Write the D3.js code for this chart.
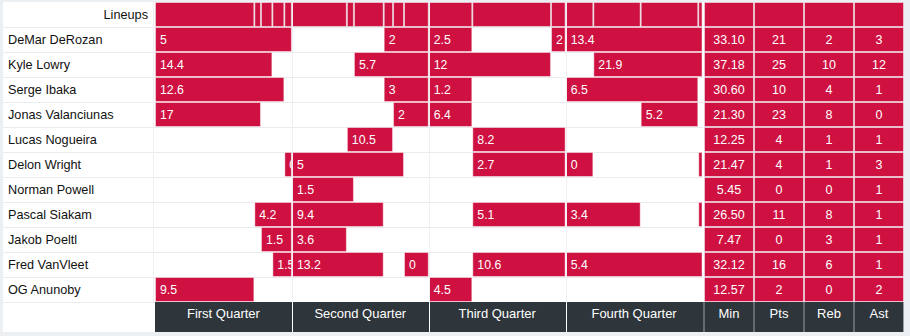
<!DOCTYPE html>
<html><head><meta charset="utf-8">
<script src="https://cdn.jsdelivr.net/npm/d3@7"></script>
<style>
body{margin:0;background:#edf0f3;}
svg{display:block;}
text{font-family:"Liberation Sans",Arial,Helvetica,sans-serif;}
</style>
</head><body>
<svg id="chart" width="910" height="336"></svg>
<script>
// ---------------- data ----------------
const players = ["DeMar DeRozan","Kyle Lowry","Serge Ibaka","Jonas Valanciunas","Lucas Nogueira",
  "Delon Wright","Norman Powell","Pascal Siakam","Jakob Poeltl","Fred VanVleet","OG Anunoby"];
const minutesPlayed = ["33.10","37.18","30.60","21.30","12.25","21.47","5.45","26.50","7.47","32.12","12.57"];
const points   = [21,25,10,23,4,4,0,11,0,16,2];
const rebounds = [2,10,4,8,1,1,0,8,3,6,0];
const assists  = [3,12,1,0,1,3,1,1,1,1,2];
const statLabels = ["Min","Pts","Reb","Ast"];
const quarterLabels = ["First Quarter","Second Quarter","Third Quarter","Fourth Quarter"];
// substitution times (game minutes) that split the lineups row
const lineupBreaks = [0,8.71,9.29,10.29,11.34,12,16.82,17.44,20.05,20.87,21.83,24,27.82,34.72,36,38.43,42.58,47.63,48];
// stints per player: [start minute, end minute, label]
const stints = [
  [[0,12,"5"],[20.05,24,"2"],[24,27.82,"2.5"],[34.72,36,"2"],[36,48,"13.4"]],
  [[0,10.29,"14.4"],[17.44,24,"5.7"],[24,34.72,"12"],[38.43,48,"21.9"]],
  [[0,11.34,"12.6"],[20.05,24,"3"],[24,27.82,"1.2"],[36,47.63,"6.5"]],
  [[0,9.29,"17"],[20.87,24,"2"],[24,27.82,"6.4"],[42.58,47.63,"5.2"]],
  [[16.82,20.87,"10.5"],[27.82,36,"8.2"]],
  [[11.34,12,"0"],[12,21.83,"5"],[27.82,36,"2.7"],[36,38.43,"0"],[47.63,48,""]],
  [[12,17.44,"1.5"]],
  [[8.71,12,"4.2"],[12,20.05,"9.4"],[27.82,36,"5.1"],[36,42.58,"3.4"],[47.63,48,""]],
  [[9.29,12,"1.5"],[12,16.82,"3.6"]],
  [[10.29,12,"1.5"],[12,20.05,"13.2"],[21.83,24,"0"],[27.82,36,"10.6"],[36,48,"5.4"]],
  [[0,8.71,"9.5"],[24,27.82,"4.5"]]
];

// ---------------- drawing ----------------
const RED = "#ce1141", DARK = "#2e353b";
const svg = d3.select("#chart");
const rows = ["Lineups", ...players];
const x = d3.scaleLinear().domain([0,48]).range([155,702.5]);
const y = d3.scaleBand().domain(rows).range([2,302]);
const sx = d3.scaleBand().domain(statLabels).range([704,904]);
const qx = d3.scaleBand().domain(quarterLabels).range([x(0),x(48)]);
const bh = y.bandwidth();

svg.append("rect").attr("x",3).attr("y",2).attr("width",901).attr("height",330).attr("fill","#fff");

// clip paths per quarter
const defs = svg.append("defs");
quarterLabels.forEach((q,i)=>{
  defs.append("clipPath").attr("id","q"+i).append("rect")
    .attr("x",x(i*12)).attr("y",0).attr("width",x((i+1)*12)-x(i*12)).attr("height",336);
});

// horizontal grid
svg.append("g").selectAll("line").data(rows.slice(1).concat(["_end"])).join("line")
  .attr("x1",3).attr("x2",703)
  .attr("y1",d=>d==="_end"?302.5:Math.round(y(d))+0.5)
  .attr("y2",d=>d==="_end"?302.5:Math.round(y(d))+0.5)
  .attr("stroke","#e9ecef");
svg.append("line").attr("x1",153.5).attr("x2",153.5).attr("y1",2).attr("y2",302).attr("stroke","#eef0f3");

// name labels
svg.append("g").selectAll("text").data(players).join("text")
  .attr("x",8).attr("y",d=>y(d)+bh/2).attr("dy","0.35em")
  .attr("font-size","12.7px").attr("fill","#111").text(d=>d);
svg.append("text").attr("x",148).attr("y",y("Lineups")+bh/2).attr("dy","0.35em")
  .attr("text-anchor","end").attr("font-size","12.7px").attr("fill","#111").text("Lineups");

// lineups row
const lineupSegs = d3.pairs(lineupBreaks);
svg.append("g").selectAll("rect").data(lineupSegs).join("rect")
  .attr("x",d=>x(d[0])+0.5).attr("y",y("Lineups")+0.5)
  .attr("width",d=>x(d[1])-x(d[0])-1).attr("height",bh-1)
  .attr("fill",RED).attr("stroke","rgba(235,225,230,0.6)");

// player stints
players.forEach((p,i)=>{
  const g = svg.append("g");
  g.selectAll("rect").data(stints[i]).join("rect")
    .attr("x",d=>x(d[0])+0.5).attr("y",y(p)+0.5)
    .attr("width",d=>Math.max(0,x(d[1])-x(d[0])-1)).attr("height",bh-1)
    .attr("fill",RED).attr("stroke","rgba(255,255,255,0.45)");
  g.selectAll("text").data(stints[i].filter(d=>d[2]!=="")).join("text")
    .attr("clip-path",d=>`url(#q${Math.min(3,Math.floor(d[0]/12+1e-6))})`)
    .attr("x",d=>x(d[0])+5).attr("y",y(p)+bh/2).attr("dy","0.35em")
    .attr("font-size","12.3px").attr("fill","#fff").text(d=>d[2]);
});

// quarter separators
svg.append("g").selectAll("line").data([12,24,36]).join("line")
  .attr("x1",d=>Math.round(x(d))+0.5).attr("x2",d=>Math.round(x(d))+0.5)
  .attr("y1",2).attr("y2",332).attr("stroke","#eef0f3");

// stats cells
const statCols = [minutesPlayed, points, rebounds, assists];
statLabels.forEach((s,j)=>{
  const g = svg.append("g");
  g.selectAll("rect").data(rows).join("rect")
    .attr("x",sx(s)+0.5).attr("y",d=>y(d)+0.5)
    .attr("width",sx.bandwidth()-1).attr("height",bh-1)
    .attr("fill",RED).attr("stroke","rgba(235,225,230,0.6)");
  g.selectAll("text").data(players).join("text")
    .attr("x",sx(s)+sx.bandwidth()/2).attr("y",d=>y(d)+bh/2).attr("dy","0.35em")
    .attr("text-anchor","middle").attr("font-size","12.5px").attr("fill","#fff")
    .text((d,i)=>statCols[j][i]);
});

// bottom axis bar
const ax = svg.append("g");
ax.append("rect").attr("x",x(0)).attr("y",302).attr("width",904-x(0)).attr("height",30).attr("fill",DARK);
ax.selectAll("line.q").data([12,24,36]).join("line").attr("class","q")
  .attr("x1",d=>Math.round(x(d))+0.5).attr("x2",d=>Math.round(x(d))+0.5)
  .attr("y1",302).attr("y2",332).attr("stroke","#ffffff");
ax.selectAll("line.s").data(statLabels).join("line").attr("class","s")
  .attr("x1",d=>sx(d)).attr("x2",d=>sx(d)).attr("y1",302).attr("y2",332)
  .attr("stroke","#9aa0a5");
ax.append("line").attr("x1",903.5).attr("x2",903.5).attr("y1",302).attr("y2",332).attr("stroke","#9aa0a5");

const axisG = svg.append("g").attr("transform","translate(0,302)")
  .call(d3.axisBottom(qx).tickSize(0).tickPadding(0));
axisG.select(".domain").remove();
axisG.selectAll("text").attr("y",11).attr("dy","0.35em")
  .attr("font-size","13px").attr("fill","#fff").style("font-family",'"Liberation Sans",Arial,sans-serif');

const statAxis = svg.append("g").attr("transform","translate(0,302)")
  .call(d3.axisBottom(sx).tickSize(0).tickPadding(0));
statAxis.select(".domain").remove();
statAxis.selectAll("text").attr("y",11).attr("dy","0.35em")
  .attr("font-size","13px").attr("fill","#fff").style("font-family",'"Liberation Sans",Arial,sans-serif');
</script>
</body></html>
